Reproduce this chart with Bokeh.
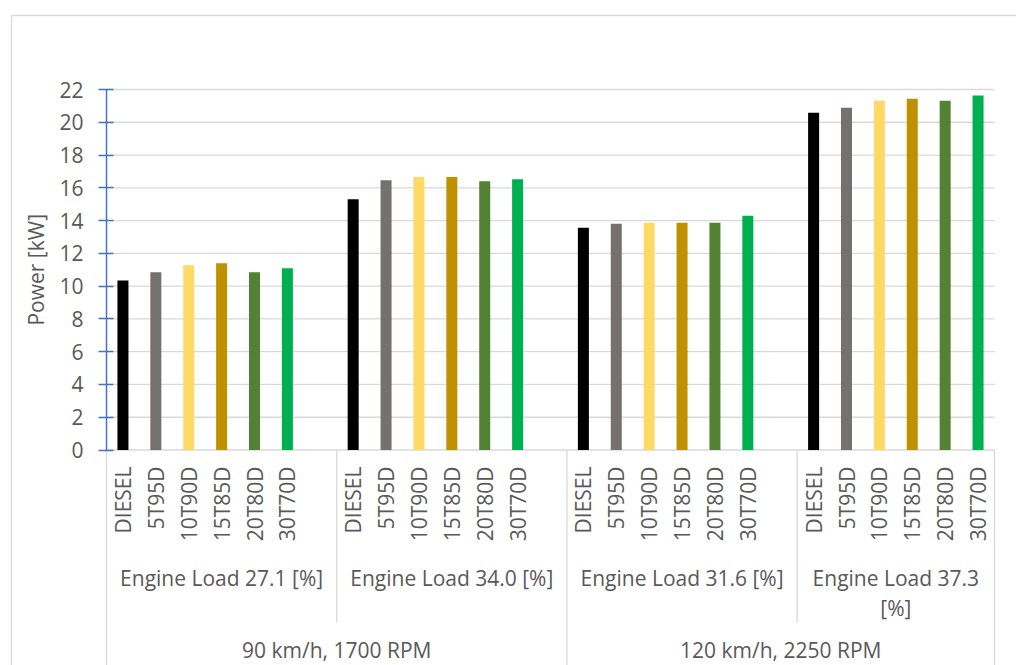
import math

from bokeh.core.properties import value
from bokeh.embed import file_html
from bokeh.models import FixedTicker, Range1d
from bokeh.plotting import figure
from bokeh.resources import INLINE

# ---- data -------------------------------------------------------------
fuels = ["DIESEL", "5T95D", "10T90D", "15T85D", "20T80D", "30T70D"]
fuel_colors = ["#000000", "#767171", "#FFD966", "#BF9000", "#548235", "#00B050"]

engine_loads = [
    "Engine Load 27.1 [%]",
    "Engine Load 34.0 [%]",
    "Engine Load 31.6 [%]",
    "Engine Load 37.3\n[%]",
]
speeds = ["90 km/h, 1700 RPM", "120 km/h, 2250 RPM"]
loads_per_speed = [2, 2]

# Power [kW] per fuel blend, one list per engine-load case
power_load_27_1 = [10.35, 10.84, 11.27, 11.39, 10.84, 11.09]
power_load_34_0 = [15.30, 16.46, 16.66, 16.66, 16.40, 16.52]
power_load_31_6 = [13.56, 13.81, 13.87, 13.87, 13.87, 14.30]
power_load_37_3 = [20.58, 20.89, 21.32, 21.44, 21.32, 21.63]
power_series = [power_load_27_1, power_load_34_0, power_load_31_6, power_load_37_3]

y_ticks = list(range(0, 23, 2))
y_title = "Power [kW]"

# ---- styling / layout -------------------------------------------------
FONT = "Open Sans"
FONT_SIZE = "21px"
TEXT = "#595959"
GRID = "#D9D9D9"
AXIS_BLUE = "#4472C4"

W, H = 1016, 665
AREA_LEFT, AREA_RIGHT = 106.0, 994.0    # pixel columns of the plot area
ZERO_PX, TOP_PX = 449.5, 89.0           # pixel rows of 0 kW and 22 kW
BORDER_LEFT, BORDER_TOP = 11.0, 15.0

# one slot per fuel plus an empty spacer slot between engine-load groups
slot = len(fuels) + 1
n_slots = slot * len(engine_loads) - 1

y_max = y_ticks[-1]
px_per_y = (ZERO_PX - TOP_PX) / y_max
px_per_x = (AREA_RIGHT - AREA_LEFT) / n_slots


def py(row):
    """Canvas pixel row -> power-scale value."""
    return (ZERO_PX - row) / px_per_y


def px(col):
    """Canvas pixel column -> category-slot coordinate."""
    return (col - AREA_LEFT) / px_per_x


p = figure(
    width=W,
    height=H,
    x_range=Range1d(px(0), px(W)),
    y_range=Range1d(py(H), py(0)),
    output_backend="svg",
    toolbar_location=None,
    x_axis_location=None,
    min_border=0,
    outline_line_color=None,
    background_fill_color="white",
    border_fill_color="white",
)
p.xgrid.visible = False
p.ygrid.visible = False

# ---- value axis (pinned to the left edge of the plot area) -----------
ax = p.yaxis[0]
ax.fixed_location = 0
ax.ticker = FixedTicker(ticks=y_ticks)
ax.bounds = (0, y_max)
ax.axis_line_color = AXIS_BLUE
ax.axis_line_width = 1.5
ax.major_tick_line_color = AXIS_BLUE
ax.major_tick_line_width = 1.5
ax.major_tick_in = 7
ax.major_tick_out = 8
ax.minor_tick_line_color = None
ax.major_label_text_font = FONT
ax.major_label_text_font_size = FONT_SIZE
ax.major_label_text_color = TEXT
ax.major_label_standoff = 15

text_style = dict(text_font=value(FONT), text_font_size=FONT_SIZE, text_color=TEXT)

# axis title, centred on the 0-22 span
p.text(x=[px(35)], y=[y_max / 2], text=[y_title], angle=math.pi / 2,
       text_align="center", text_baseline="middle", **text_style)

# horizontal gridlines across the plot area
p.segment(x0=[0] * len(y_ticks), y0=y_ticks, x1=[n_slots] * len(y_ticks), y1=y_ticks,
          line_color=GRID, line_width=1.3, level="underlay")

# ---- bars -------------------------------------------------------------
bar_x, bar_top, bar_color = [], [], []
for g, values in enumerate(power_series):
    for j, v in enumerate(values):
        bar_x.append(g * slot + j + 0.5)
        bar_top.append(v)
        bar_color.append(fuel_colors[j])

p.vbar(x=bar_x, top=bar_top, bottom=0, width=0.335,
       fill_color=bar_color, line_color=None)

# ---- multi-level category axis ---------------------------------------
group_start = [g * slot for g in range(len(engine_loads))]
group_end = [min((g + 1) * slot, n_slots) for g in range(len(engine_loads))]

speed_edges = [0]
k = 0
for n in loads_per_speed:
    k += n
    speed_edges.append(group_end[k - 1])
load_edges = [e for e in group_end[:-1] if e not in speed_edges]

# separators: full height between speeds, shorter between engine loads
y_bottom = py(H + 5)
y_load_sep = py(622)
sep_x = speed_edges + load_edges
sep_y1 = [y_bottom] * len(speed_edges) + [y_load_sep] * len(load_edges)
p.segment(x0=sep_x, y0=[0] * len(sep_x), x1=sep_x, y1=sep_y1,
          line_color=GRID, line_width=1.3, level="underlay")

# fuel names, rotated
p.text(x=bar_x, y=[py(466)] * len(bar_x),
       text=[fuels[j] for _ in engine_loads for j in range(len(fuels))],
       angle=math.pi / 2, text_align="right", text_baseline="middle",
       **text_style)

# engine-load labels (second line where the label wraps)
load_x = [(s + e) / 2 for s, e in zip(group_start, group_end)]
line1 = [lbl.split("\n")[0] for lbl in engine_loads]
p.text(x=load_x, y=[py(577)] * len(load_x), text=line1,
       text_align="center", text_baseline="middle", **text_style)
wrap_x = [x for x, lbl in zip(load_x, engine_loads) if "\n" in lbl]
wrap_t = [lbl.split("\n")[1] for lbl in engine_loads if "\n" in lbl]
p.text(x=wrap_x, y=[py(607)] * len(wrap_x), text=wrap_t,
       text_align="center", text_baseline="middle", **text_style)

# speed labels
speed_x = [(speed_edges[i] + speed_edges[i + 1]) / 2 for i in range(len(speeds))]
p.text(x=speed_x, y=[py(649)] * len(speed_x), text=speeds,
       text_align="center", text_baseline="middle", **text_style)

# outer chart border (left and top edges)
p.segment(x0=[px(BORDER_LEFT), px(BORDER_LEFT)], y0=[py(BORDER_TOP), py(BORDER_TOP)],
          x1=[px(BORDER_LEFT), px(W + 5)], y1=[py(H + 5), py(BORDER_TOP)],
          line_color=GRID, line_width=1.3)

open("out.html", "w").write(file_html(p, INLINE))
